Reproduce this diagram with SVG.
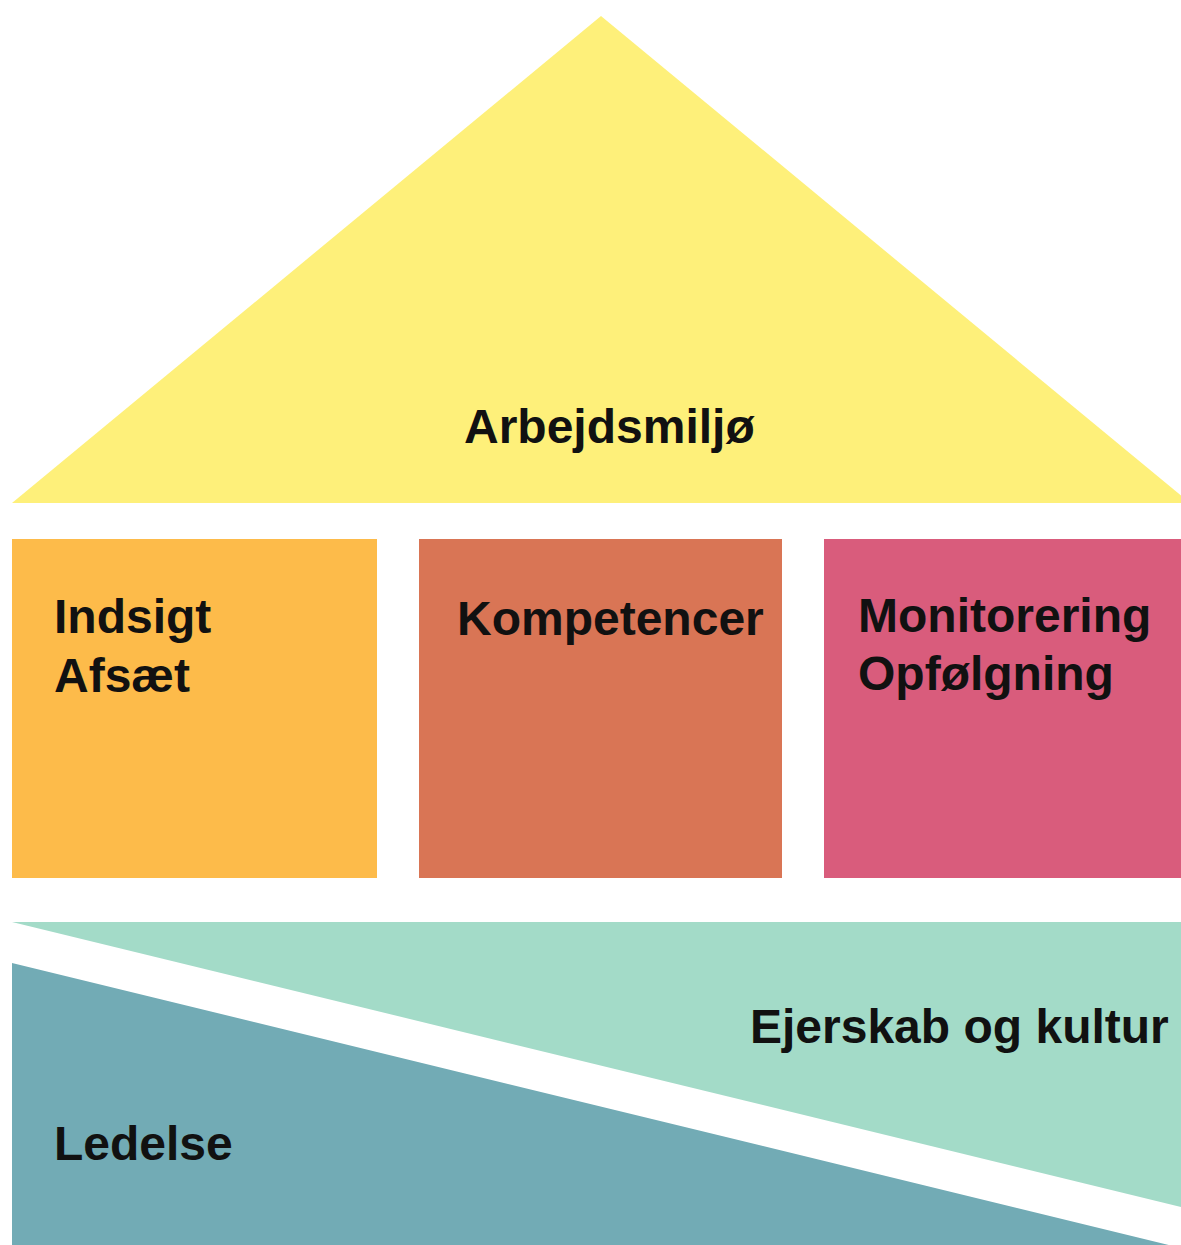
<svg xmlns="http://www.w3.org/2000/svg" width="1181" height="1245" viewBox="0 0 1181 1245">
<style>
.t{font-family:"Liberation Sans",Arial,sans-serif;font-weight:bold;font-size:48px;fill:#111}
</style>
<rect width="1181" height="1245" fill="#fff"/>
<g id="roof"><polygon points="601,16 12,503 1190,503" fill="#FEF07A"/><text class="t" x="464" y="443">Arbejdsmiljø</text></g>
<g id="indsigt"><rect x="12" y="539" width="365" height="339" fill="#FDBB4A"/><text class="t" x="54" y="633">Indsigt</text><text class="t" x="54" y="692">Afsæt</text></g>
<g id="kompetencer"><rect x="419" y="539" width="363" height="339" fill="#D97555"/><text class="t" x="457" y="635">Kompetencer</text></g>
<g id="monitorering"><rect x="824" y="539" width="357" height="339" fill="#D95C7C"/><text class="t" x="858" y="632">Monitorering</text><text class="t" x="858" y="690">Opfølgning</text></g>
<g id="ejerskab"><polygon points="12,922 1181,922 1181,1207" fill="#A3DBC8"/><text class="t" x="750" y="1043">Ejerskab og kultur</text></g>
<g id="ledelse"><polygon points="12,963 1181,1248 1181,1245 12,1245" fill="#72ABB5"/><text class="t" x="54" y="1160">Ledelse</text></g>
<g id="connectors"/>
</svg>
